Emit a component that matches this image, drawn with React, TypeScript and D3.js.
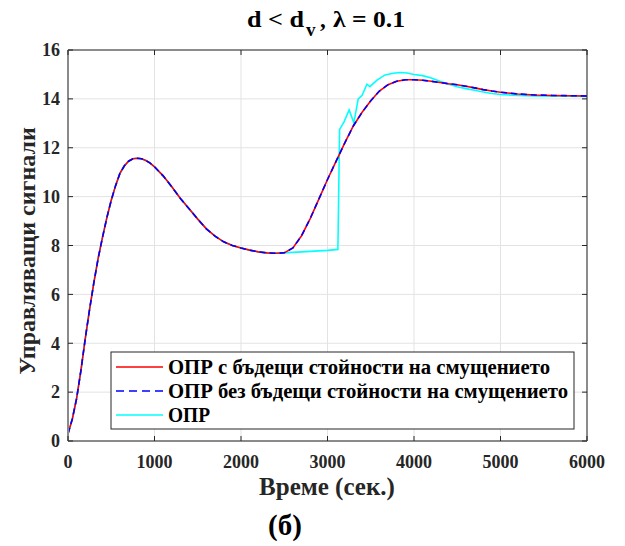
import React from 'react';
import * as d3 from 'd3';

// time grid (s) for the two model-based curves
const timeRef = [0, 50, 100, 150, 200, 250, 300, 350, 400, 450, 500, 550, 600, 650, 700, 750, 800, 850, 900, 950,
  1000, 1100, 1200, 1300, 1400, 1500, 1600, 1700, 1800, 1900, 2000, 2100, 2200, 2300, 2400, 2500, 2600, 2700,
  2800, 2900, 3000, 3100, 3200, 3300, 3400, 3500, 3600, 3700, 3800, 3900, 4000, 4100, 4200, 4300, 4400, 4500,
  4600, 4700, 4800, 4900, 5000, 5200, 5400, 5600, 5800, 6000];

// ОПР с бъдещи стойности на смущението
const withForecast = [0.3, 0.9, 1.75, 2.9, 4.2, 5.4, 6.5, 7.5, 8.35, 9.15, 9.85, 10.45, 10.95, 11.25, 11.45, 11.55,
  11.57, 11.55, 11.48, 11.37, 11.22, 10.85, 10.4, 9.92, 9.5, 9.08, 8.68, 8.38, 8.15, 8.0, 7.9, 7.81, 7.74, 7.7,
  7.68, 7.7, 7.9, 8.4, 9.1, 9.9, 10.7, 11.45, 12.2, 12.9, 13.45, 13.92, 14.32, 14.58, 14.72, 14.78, 14.78, 14.76,
  14.72, 14.67, 14.62, 14.58, 14.52, 14.45, 14.38, 14.32, 14.27, 14.2, 14.16, 14.14, 14.13, 14.12];

// ОПР без бъдещи стойности на смущението
const withoutForecast = [0.3, 0.9, 1.75, 2.9, 4.2, 5.4, 6.5, 7.5, 8.35, 9.15, 9.85, 10.45, 10.95, 11.25, 11.45, 11.55,
  11.57, 11.55, 11.48, 11.37, 11.22, 10.85, 10.4, 9.92, 9.5, 9.08, 8.68, 8.38, 8.15, 8.0, 7.9, 7.81, 7.74, 7.7,
  7.68, 7.7, 7.9, 8.4, 9.1, 9.9, 10.7, 11.45, 12.2, 12.9, 13.45, 13.92, 14.32, 14.58, 14.72, 14.78, 14.78, 14.76,
  14.72, 14.67, 14.62, 14.58, 14.52, 14.45, 14.38, 14.32, 14.27, 14.2, 14.16, 14.14, 14.13, 14.12];

// ОПР
const timeOpr = [0, 50, 100, 150, 200, 250, 300, 350, 400, 450, 500, 550, 600, 650, 700, 750, 800, 850, 900, 950,
  1000, 1100, 1200, 1300, 1400, 1500, 1600, 1700, 1800, 1900, 2000, 2100, 2200, 2300, 2400, 2600, 2800, 3000,
  3120, 3140, 3190, 3250, 3305, 3355, 3400, 3456, 3491, 3572, 3665, 3760, 3840, 3920, 4000, 4100, 4200, 4300,
  4400, 4500, 4600, 4700, 4800, 4900, 5000, 5200, 5400, 6000];
const opr = [0.3, 0.9, 1.75, 2.9, 4.2, 5.4, 6.5, 7.5, 8.35, 9.15, 9.85, 10.45, 10.95, 11.25, 11.45, 11.55,
  11.57, 11.55, 11.48, 11.37, 11.22, 10.85, 10.4, 9.92, 9.5, 9.08, 8.68, 8.38, 8.15, 8.0, 7.9, 7.81, 7.74, 7.7,
  7.68, 7.72, 7.76, 7.8, 7.84, 12.75, 13.05, 13.55, 13.02, 14.0, 14.15, 14.6, 14.5, 14.77, 14.98, 15.05, 15.08,
  15.06, 15.0, 14.95, 14.85, 14.72, 14.6, 14.5, 14.42, 14.35, 14.28, 14.22, 14.18, 14.14, 14.12, 14.1];

const xTicks = [0, 1000, 2000, 3000, 4000, 5000, 6000];
const yTicks = [0, 2, 4, 6, 8, 10, 12, 14, 16];

const legendItems = [
  { label: 'ОПР с бъдещи стойности на смущението', color: '#ff0000', dash: null, width: 382 },
  { label: 'ОПР без бъдещи стойности на смущението', color: '#0000ff', dash: '8,5', width: 400 },
  { label: 'ОПР', color: '#00ffff', dash: null, width: 42 },
];

const W = 625;
const H = 546;
const margin = { top: 50, right: 38, bottom: 105, left: 68 };
const font = 'Liberation Serif';

export default function App() {
  const innerW = W - margin.left - margin.right;
  const innerH = H - margin.top - margin.bottom;

  const x = d3.scaleLinear().domain([0, 6000]).range([0, innerW]);
  const y = d3.scaleLinear().domain([0, 16]).range([innerH, 0]);

  const line = (ts: number[], vs: number[]) =>
    d3.line<number>().x((_, i) => x(ts[i])).y(d => y(d))(vs) || '';

  return (
    <svg width={W} height={H} style={{ position: 'fixed', left: 0, top: 0, background: '#fff', fontFamily: font, fontWeight: 'bold' }}>
      <rect width={W} height={H} fill="#fff" />
      <g transform={`translate(${margin.left},${margin.top})`}>
        {/* grid */}
        {xTicks.map(t => (
          <line key={'gx' + t} x1={x(t)} x2={x(t)} y1={0} y2={innerH} stroke="#e3e3e3" strokeWidth={1} />
        ))}
        {yTicks.map(t => (
          <line key={'gy' + t} x1={0} x2={innerW} y1={y(t)} y2={y(t)} stroke="#e3e3e3" strokeWidth={1} />
        ))}

        {/* curves */}
        <path d={line(timeOpr, opr)} fill="none" stroke="#00ffff" strokeWidth={1.6} />
        <path d={line(timeRef, withForecast)} fill="none" stroke="#ff0000" strokeWidth={1.6} />
        <path d={line(timeRef, withoutForecast)} fill="none" stroke="#0000ff" strokeWidth={1.6}
          strokeDasharray="6,4" />

        {/* box */}
        <line x1={0} x2={innerW} y1={0} y2={0} stroke="#262626" strokeWidth={1} />
        <line x1={innerW} x2={innerW} y1={0} y2={innerH} stroke="#262626" strokeWidth={1} />
        <line x1={0} x2={0} y1={0} y2={innerH} stroke="#8a8a8a" strokeWidth={2} />
        <line x1={0} x2={innerW} y1={innerH} y2={innerH} stroke="#8a8a8a" strokeWidth={2} />

        {/* ticks */}
        {xTicks.map(t => (
          <g key={'tx' + t}>
            <line x1={x(t)} x2={x(t)} y1={innerH} y2={innerH - 5} stroke="#262626" />
            <line x1={x(t)} x2={x(t)} y1={0} y2={5} stroke="#262626" />
            <text x={x(t)} y={innerH + 27} textAnchor="middle" fontSize={18} fill="#262626">{t}</text>
          </g>
        ))}
        {yTicks.map(t => (
          <g key={'ty' + t}>
            <line x1={0} x2={5} y1={y(t)} y2={y(t)} stroke="#262626" />
            <line x1={innerW} x2={innerW - 5} y1={y(t)} y2={y(t)} stroke="#262626" />
            <text x={-8} y={y(t)} dy="0.35em" textAnchor="end" fontSize={18} fill="#262626">{t}</text>
          </g>
        ))}

        {/* legend */}
        <g transform="translate(43,302)">
          <rect width={463} height={77} fill="#fff" stroke="#262626" strokeWidth={1} />
          {legendItems.map((d, i) => (
            <g key={d.label} transform={`translate(0,${15 + i * 24})`}>
              <line x1={5} x2={52} y1={0} y2={0} stroke={d.color} strokeWidth={1.6}
                strokeDasharray={d.dash || undefined} />
              <text x={57} y={0} dy="0.34em" fontSize={20} fill="#000" textLength={d.width}
                lengthAdjust="spacingAndGlyphs">{d.label}</text>
            </g>
          ))}
        </g>
      </g>

      {/* title */}
      <g fontSize={23} fill="#000">
        <text x={247} y={27} textLength={57} lengthAdjust="spacingAndGlyphs">d &lt; d</text>
        <text x={306} y={36} fontSize={19}>v</text>
        <text x={320} y={27}>,</text>
        <text x={333} y={27} textLength={72} lengthAdjust="spacingAndGlyphs">λ = 0.1</text>
      </g>

      {/* axis labels */}
      <text x={327} y={495} textAnchor="middle" fontSize={25} fill="#262626">Време (сек.)</text>
      <text transform="translate(35,251) rotate(-90)" textAnchor="middle" fontSize={24} fill="#262626">
        Управляващи сигнали
      </text>
      <text x={285} y={535} textAnchor="middle" fontSize={29} fill="#000">(б)</text>
    </svg>
  );
}
